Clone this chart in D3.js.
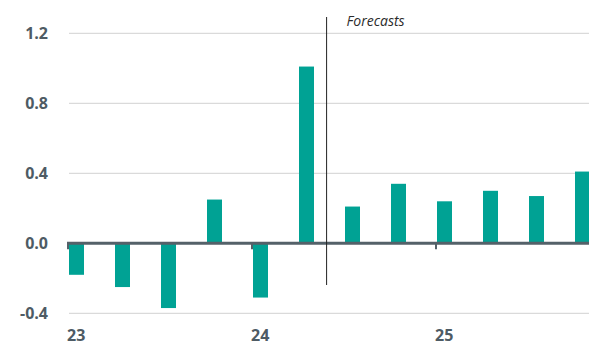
<!DOCTYPE html>
<html>
<head>
<meta charset="utf-8">
<script src="https://cdn.jsdelivr.net/npm/d3@7"></script>
<style>
  body { margin: 0; background: #fff; }
  svg { display: block; font-family: "Open Sans", Lato, sans-serif; }
</style>
</head>
<body>
<div id="chart"></div>
<script>
// Quarterly values (year + quarter offset), last bar cut off by the frame
const quarters = [2023.0, 2023.25, 2023.5, 2023.75, 2024.0, 2024.25, 2024.5, 2024.75, 2025.0, 2025.25, 2025.5, 2025.75];
const values = [-0.18, -0.25, -0.37, 0.25, -0.31, 1.01, 0.21, 0.34, 0.24, 0.30, 0.27, 0.41];
const yTicks = [-0.4, 0.0, 0.4, 0.8, 1.2];
const xTicks = [2023, 2024, 2025];
const forecastStart = 2024.4;
const forecastLabel = "Forecasts";

const W = 589, H = 347;
const svg = d3.select("#chart").append("svg")
    .attr("width", W)
    .attr("height", H);

// scales
const x = d3.scaleLinear()
    .domain([2023, 2025])
    .range([69, 437]);

const y = d3.scaleLinear()
    .domain([-0.4, 1.2])
    .range([313.3, 33.3]);

const barW = 15;
const labelColor = "#4e5b64";

// gridlines
svg.append("g")
    .selectAll("line")
    .data(yTicks.filter(d => d !== 0))
    .enter()
    .append("line")
    .attr("x1", x(2023))
    .attr("x2", W)
    .attr("y1", d => y(d))
    .attr("y2", d => y(d))
    .attr("stroke", "#dadada")
    .attr("stroke-width", 1.2);

// y labels (plain hyphen for negatives, as in the original)
svg.append("g")
    .selectAll("text")
    .data(yTicks)
    .enter()
    .append("text")
    .attr("x", 48)
    .attr("y", d => y(d))
    .attr("dy", "0.36em")
    .attr("text-anchor", "end")
    .attr("font-size", 16)
    .attr("font-weight", 700)
    .attr("fill", labelColor)
    .text(d => d.toFixed(1));

// bars
svg.append("g")
    .selectAll("rect")
    .data(quarters.map((q, i) => ({ q: q, v: values[i] })))
    .enter()
    .append("rect")
    .attr("x", d => x(d.q))
    .attr("y", d => y(Math.max(0, d.v)))
    .attr("width", barW)
    .attr("height", d => Math.abs(y(d.v) - y(0)))
    .attr("fill", "#00a294");

// zero line
svg.append("line")
    .attr("x1", x(2023) - 2)
    .attr("x2", W)
    .attr("y1", y(0))
    .attr("y2", y(0))
    .attr("stroke", "#546169")
    .attr("stroke-width", 3);

// year ticks + labels
const xAxis = svg.append("g");
xAxis.selectAll("line")
    .data(xTicks)
    .enter()
    .append("line")
    .attr("x1", d => x(d) - 1)
    .attr("x2", d => x(d) - 1)
    .attr("y1", y(0))
    .attr("y2", y(0) + 6)
    .attr("stroke", "#546169")
    .attr("stroke-width", 2);

xAxis.selectAll("text")
    .data(xTicks)
    .enter()
    .append("text")
    .attr("x", d => x(d) - 2)
    .attr("y", 341)
    .attr("font-size", 16)
    .attr("font-weight", 700)
    .attr("fill", labelColor)
    .text(d => String(d).slice(2));

// forecast divider
svg.append("line")
    .attr("x1", x(forecastStart))
    .attr("x2", x(forecastStart))
    .attr("y1", 17)
    .attr("y2", 285)
    .attr("stroke", "#222")
    .attr("stroke-width", 1);

svg.append("text")
    .attr("x", x(forecastStart) + 20)
    .attr("y", 26)
    .attr("font-size", 14)
    .attr("font-style", "italic")
    .attr("fill", "#2b2b2b")
    .text(forecastLabel);
</script>
</body>
</html>
